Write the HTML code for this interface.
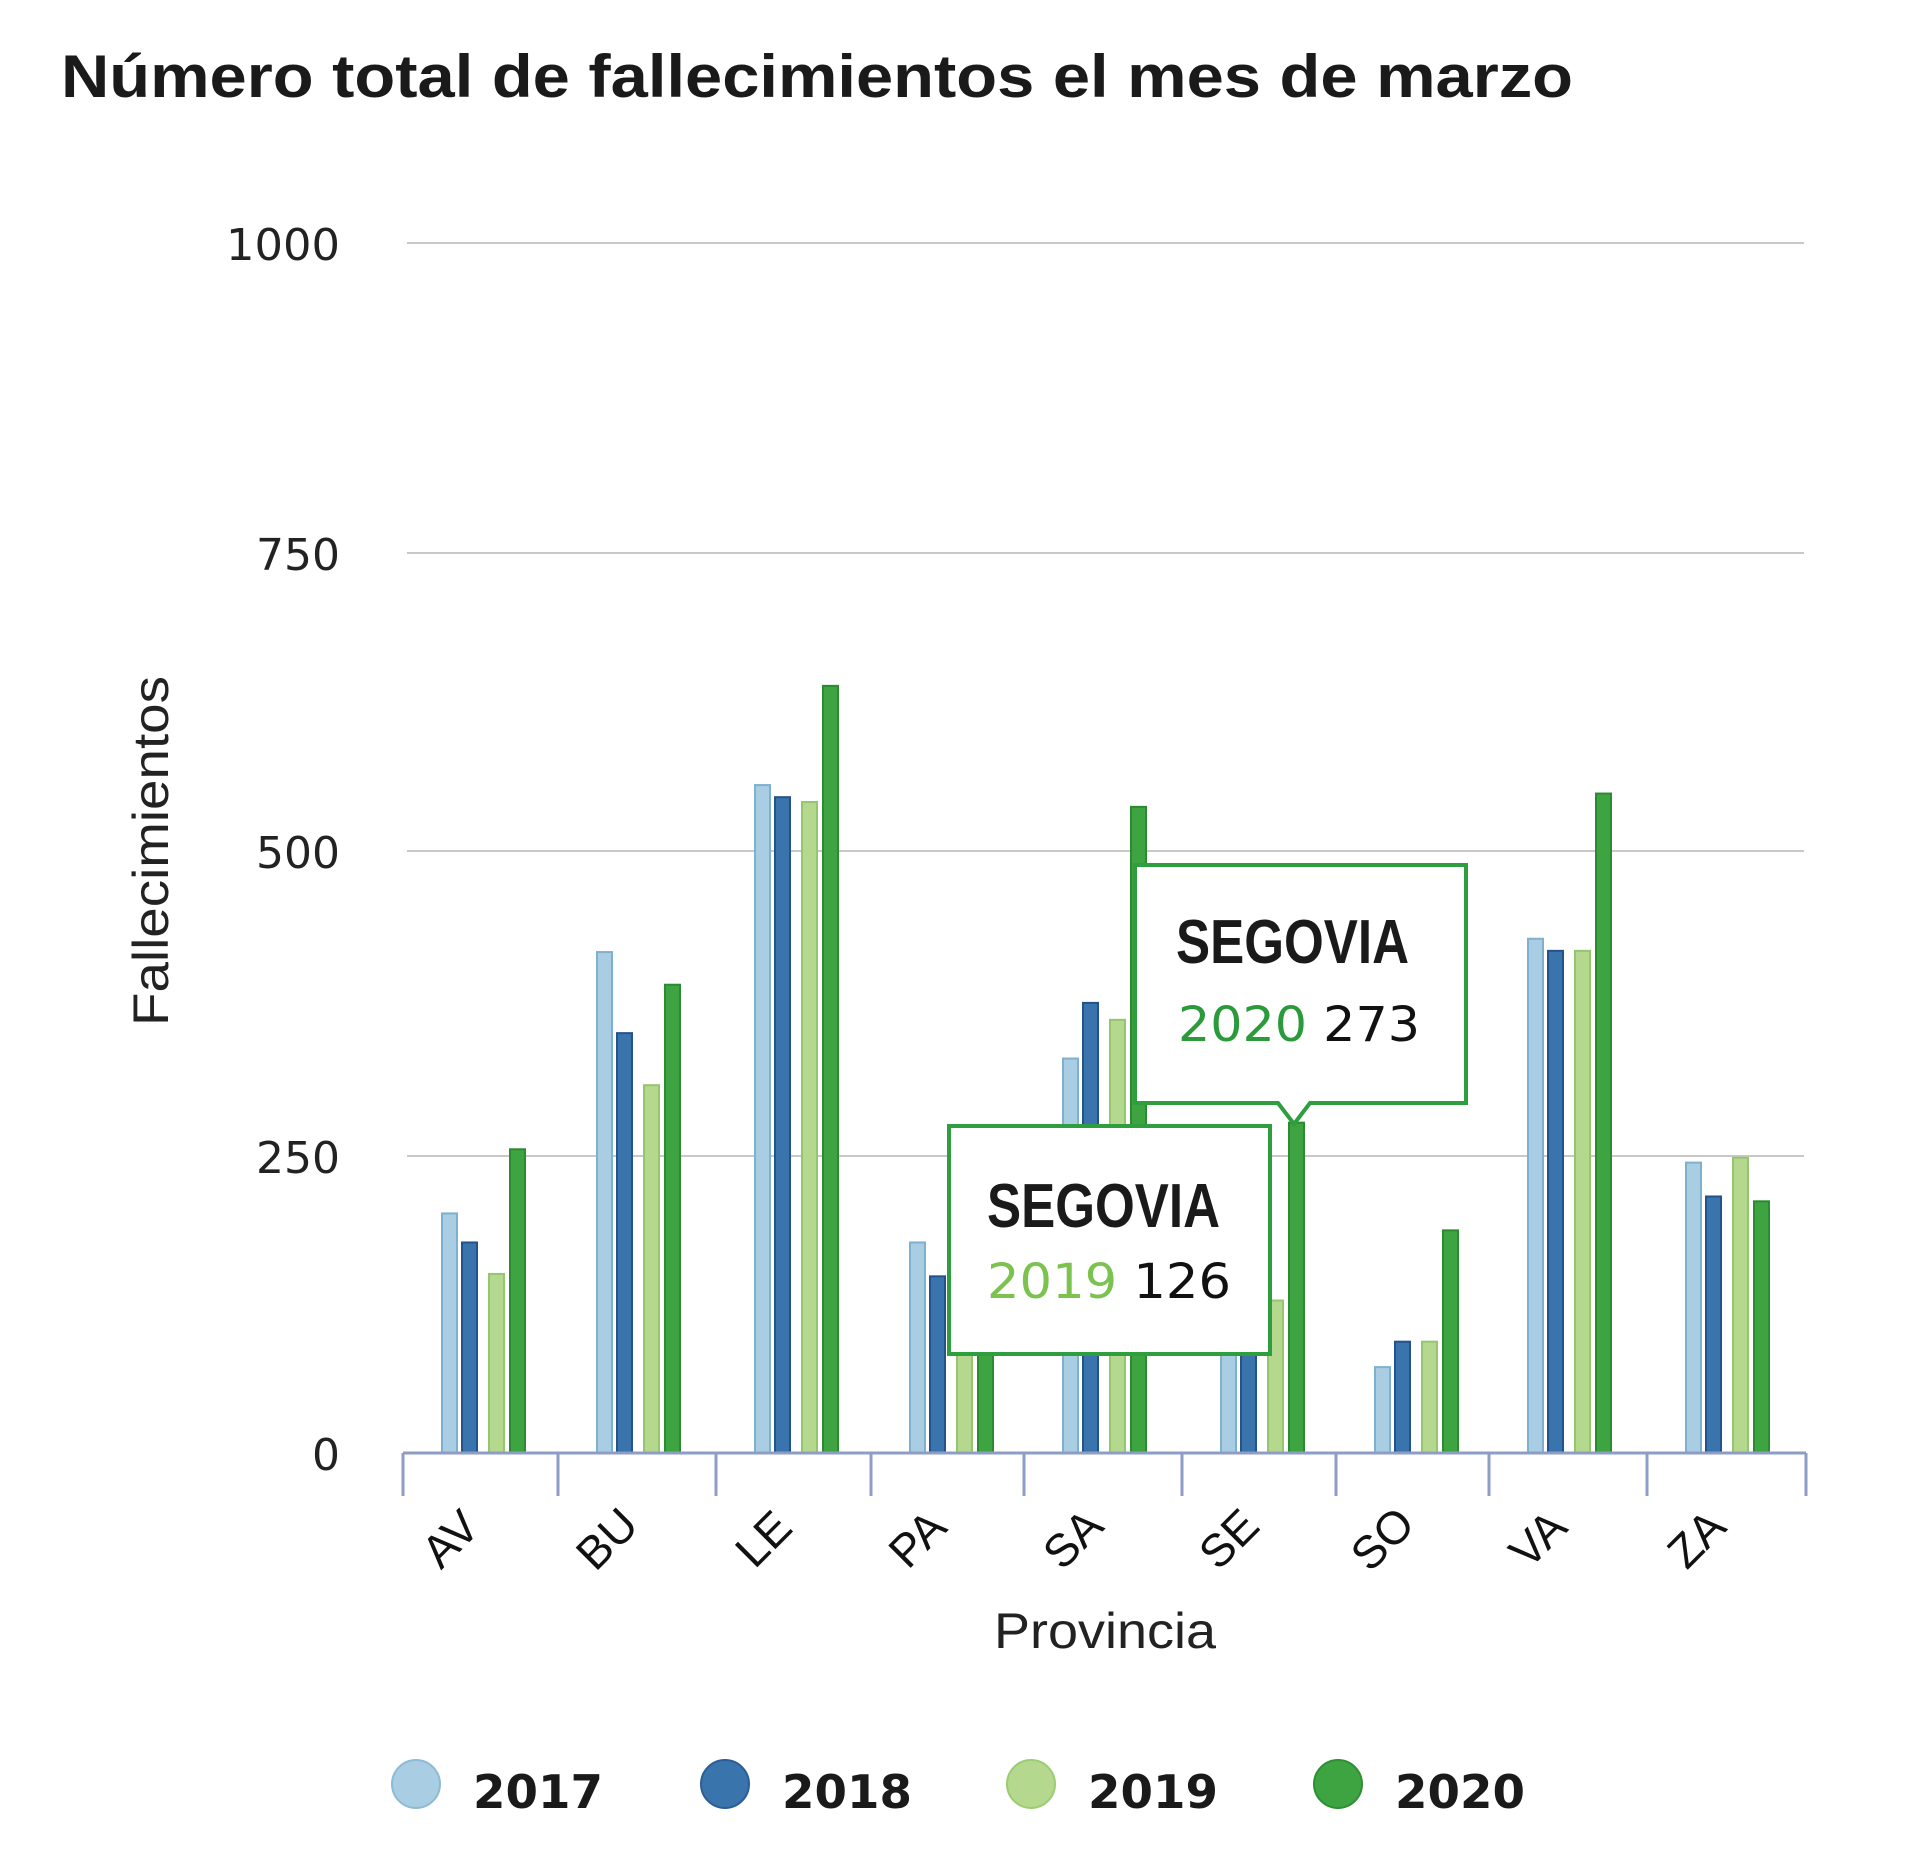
<!DOCTYPE html>
<html><head><meta charset="utf-8"><style>html,body{margin:0;padding:0;background:#fff}svg{display:block}</style></head>
<body>
<svg id="s" width="1920" height="1859" xmlns="http://www.w3.org/2000/svg">
<rect width="1920" height="1859" fill="#fff"/>
<text x="61" y="97" font-family="Liberation Sans, sans-serif" font-weight="bold" font-size="60" fill="#1a1a1a" textLength="1512" lengthAdjust="spacingAndGlyphs">Número total de fallecimientos el mes de marzo</text>
<g stroke="#c8c8c8" stroke-width="2">
<line x1="407" x2="1804" y1="243" y2="243"/>
<line x1="407" x2="1804" y1="553" y2="553"/>
<line x1="407" x2="1804" y1="851" y2="851"/>
<line x1="407" x2="1804" y1="1156" y2="1156"/>
</g>
<g font-family="DejaVu Sans, sans-serif" font-size="44" fill="#222" text-anchor="end">
<text x="340" y="260" textLength="114" lengthAdjust="spacingAndGlyphs">1000</text>
<text x="340" y="570">750</text>
<text x="340" y="868">500</text>
<text x="340" y="1173">250</text>
<text x="340" y="1470">0</text>
</g>
<text transform="translate(168,851) rotate(-90)" text-anchor="middle" font-family="Liberation Sans, sans-serif" font-size="50" fill="#222" textLength="350" lengthAdjust="spacingAndGlyphs">Fallecimientos</text>
<g id="bars"></g>
<g stroke="#8e9dc8" stroke-width="3" id="axis">
<line x1="403" x2="1806" y1="1453" y2="1453"/>
</g>
<g id="xl" font-family="Liberation Sans, sans-serif" font-size="46" fill="#111" text-anchor="middle"></g>
<text x="1105" y="1648" text-anchor="middle" font-family="Liberation Sans, sans-serif" font-size="50" fill="#222" textLength="222" lengthAdjust="spacingAndGlyphs">Provincia</text>
<g font-family="DejaVu Sans, sans-serif" font-weight="bold" font-size="46" fill="#1a1a1a">
<circle cx="416" cy="1784" r="24" fill="#a9cde2" stroke="#8fbad6" stroke-width="2"/>
<text x="473" y="1808" textLength="130" lengthAdjust="spacingAndGlyphs">2017</text>
<circle cx="725" cy="1784" r="24" fill="#3a74ad" stroke="#2b5e95" stroke-width="2"/>
<text x="782" y="1808" textLength="130" lengthAdjust="spacingAndGlyphs">2018</text>
<circle cx="1031" cy="1784" r="24" fill="#b3d88e" stroke="#9ccc72" stroke-width="2"/>
<text x="1088" y="1808" textLength="130" lengthAdjust="spacingAndGlyphs">2019</text>
<circle cx="1338" cy="1784" r="24" fill="#3ea341" stroke="#2e8f33" stroke-width="2"/>
<text x="1395" y="1808" textLength="130" lengthAdjust="spacingAndGlyphs">2020</text>
</g>
<!-- tooltip 1 -->
<path d="M1135,865 H1466 V1103 H1310 L1294,1124 L1278,1103 H1135 Z" fill="#fff" stroke="#2e9e3e" stroke-width="4"/>
<text x="1176" y="963" font-family="Liberation Sans, sans-serif" font-weight="bold" font-size="62" fill="#1a1a1a" textLength="233" lengthAdjust="spacingAndGlyphs">SEGOVIA</text>
<text x="1178" y="1041" font-family="DejaVu Sans, sans-serif" font-size="48" textLength="242" lengthAdjust="spacingAndGlyphs"><tspan fill="#2a9a3a">2020</tspan><tspan fill="#111"> 273</tspan></text>
<!-- tooltip 2 -->
<rect x="949" y="1126" width="321" height="228" fill="#fff" stroke="#2e9e3e" stroke-width="4"/>
<text x="987" y="1227" font-family="Liberation Sans, sans-serif" font-weight="bold" font-size="62" fill="#1a1a1a" textLength="233" lengthAdjust="spacingAndGlyphs">SEGOVIA</text>
<text x="987" y="1298" font-family="DejaVu Sans, sans-serif" font-size="48" textLength="244" lengthAdjust="spacingAndGlyphs"><tspan fill="#7cc24f">2019</tspan><tspan fill="#111"> 126</tspan></text>
<script>
(function(){
var ns="http://www.w3.org/2000/svg";
var starts=[403,558,716,871,1024,1182,1336,1489,1647,1806];
var cats=["AV","BU","LE","PA","SA","SE","SO","VA","ZA"];
var vals=[[198,174,148,251],[414,347,304,387],[552,542,538,634],[174,146,110,130],[326,372,358,534],[110,115,126,273],[71,92,92,184],[425,415,415,545],[240,212,244,208]];
var fills=["#a9cde2","#3a74ad","#b3d88e","#3ea341"];
var strokes=["#7fb0cf","#24528a","#95c56e","#2c8a30"];
var offs=[39,59,86,107];
var g=document.getElementById("bars"),ax=document.getElementById("axis"),xl=document.getElementById("xl");
for(var i=0;i<9;i++){
 for(var j=0;j<4;j++){
  var h=vals[i][j]*1.21;
  var r=document.createElementNS(ns,"rect");
  r.setAttribute("x",starts[i]+offs[j]);r.setAttribute("y",1453-h);
  r.setAttribute("width",15);r.setAttribute("height",h);
  r.setAttribute("fill",fills[j]);r.setAttribute("stroke",strokes[j]);r.setAttribute("stroke-width",2);
  g.appendChild(r);
 }
 var t=document.createElementNS(ns,"text");
 var cx=(starts[i]+starts[i+1])/2-19;
 t.setAttribute("transform","translate("+cx+",1550) rotate(-45)");
 t.textContent=cats[i];xl.appendChild(t);
}
for(var k=0;k<10;k++){
 var l=document.createElementNS(ns,"line");
 l.setAttribute("x1",starts[k]);l.setAttribute("x2",starts[k]);l.setAttribute("y1",1453);l.setAttribute("y2",1496);
 ax.appendChild(l);
}
})();
</script>
</svg>
</body></html>
